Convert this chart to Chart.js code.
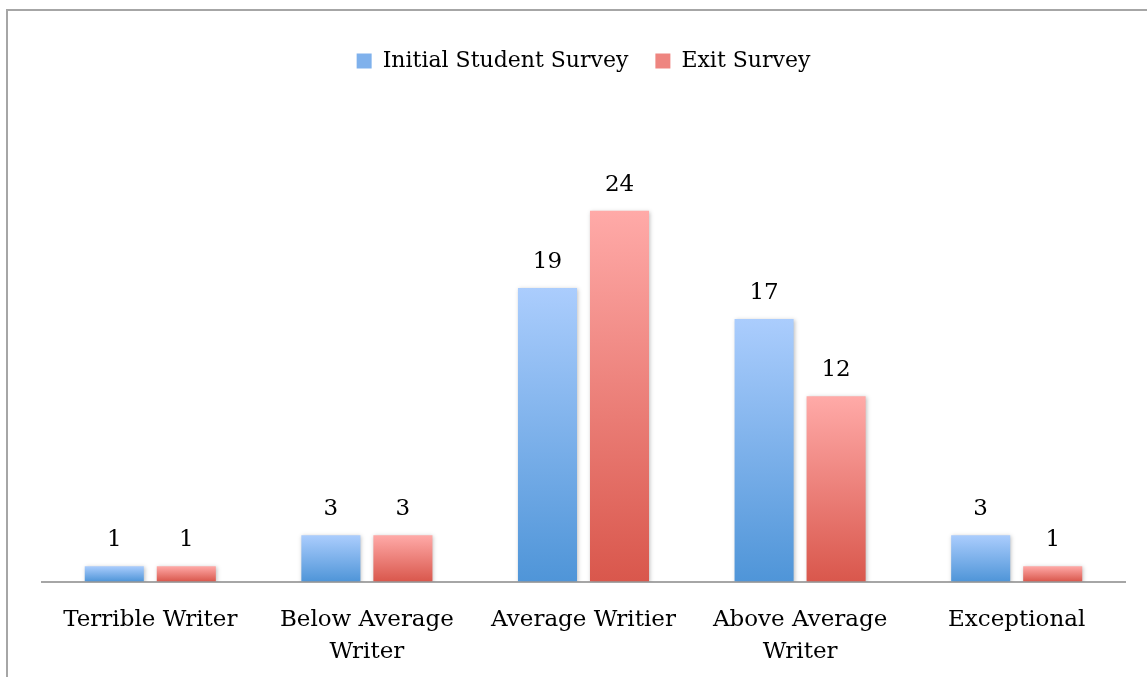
<!DOCTYPE html>
<html>
<head>
<meta charset="utf-8">
<script src="https://cdn.jsdelivr.net/npm/chart.js@4.4.1/dist/chart.umd.min.js"></script>
<style>
  body { margin: 0; background: #fff; overflow: hidden; }
  #frame { position: absolute; left: 6px; top: 9px; width: 1160px; height: 700px; border: 2px solid #a6a6a6; box-sizing: border-box; }
  #wrap { position: absolute; left: 0; top: 0; width: 1147px; height: 677px; }
</style>
</head>
<body>
<div id="frame"></div>
<div id="wrap"><canvas id="surveyChart"></canvas></div>
<script>
// Survey categories and counts
const categories = ['Terrible Writer', ['Below Average', 'Writer'], 'Average Writier', ['Above Average', 'Writer'], 'Exceptional'];
const initialSurvey = [1, 3, 19, 17, 3];
const exitSurvey = [1, 3, 24, 12, 1];
const seriesNames = ['Initial Student Survey', 'Exit Survey'];

const FONT = "'DejaVu Serif', serif";

// Vertical gradient from bar top down to the baseline
const barGradient = (top, bottom) => (ctx) => {
    const chart = ctx.chart;
    const y = chart.scales.y;
    if (!y || ctx.parsed === undefined || !chart.chartArea) return bottom;
    const yTop = y.getPixelForValue(ctx.parsed.y);
    const yBase = y.getPixelForValue(0);
    const g = chart.ctx.createLinearGradient(0, yTop, 0, yBase);
    g.addColorStop(0, top);
    g.addColorStop(1, bottom);
    return g;
};

// Draw value labels above each bar (no datalabels plugin available)
const valueLabels = {
    id: 'valueLabels',
    afterDatasetsDraw(chart) {
        const ctx = chart.ctx;
        ctx.save();
        ctx.font = '23px ' + FONT;
        ctx.fillStyle = '#000';
        ctx.textAlign = 'center';
        ctx.textBaseline = 'middle';
        chart.data.datasets.forEach((ds, i) => {
            chart.getDatasetMeta(i).data.forEach((bar, j) => {
                ctx.fillText(ds.data[j], bar.x, bar.y - 26);
            });
        });
        ctx.restore();
    }
};

// Soft shadow behind bars
const barShadow = {
    id: 'barShadow',
    beforeDatasetsDraw(chart) {
        const ctx = chart.ctx;
        ctx.save();
        ctx.shadowColor = 'rgba(0,0,0,0.25)';
        ctx.shadowBlur = 4;
        ctx.shadowOffsetX = 1;
        ctx.shadowOffsetY = 1;
    },
    afterDatasetsDraw(chart) {
        chart.ctx.restore();
    }
};

// Extra space under the legend
const legendGap = {
    id: 'legendGap',
    beforeInit(chart) {
        const fit = chart.legend.fit;
        chart.legend.fit = function () {
            fit.bind(chart.legend)();
            this.height += 36;
        };
    }
};

new Chart(document.getElementById('surveyChart'), {
    type: 'bar',
    data: {
        labels: categories,
        datasets: [{
            label: seriesNames[0],
            data: initialSurvey,
            backgroundColor: barGradient('#abcdfd', '#4f95d8'),
            categoryPercentage: 0.665,
            barPercentage: 0.82
        }, {
            label: seriesNames[1],
            data: exitSurvey,
            backgroundColor: barGradient('#ffaaa8', '#d9574c'),
            categoryPercentage: 0.665,
            barPercentage: 0.82
        }]
    },
    options: {
        responsive: true,
        maintainAspectRatio: false,
        animation: false,
        layout: { padding: { left: 42, right: 22, top: 23, bottom: -13 } },
        plugins: {
            legend: {
                position: 'top',
                labels: {
                    color: '#000',
                    font: { family: FONT, size: 22 },
                    boxWidth: 15,
                    boxHeight: 15,
                    padding: 27,
                    generateLabels: (chart) => [
                        { text: seriesNames[0], fillStyle: '#7fb1ec', strokeStyle: '#7fb1ec', lineWidth: 0, datasetIndex: 0 },
                        { text: seriesNames[1], fillStyle: '#ee8580', strokeStyle: '#ee8580', lineWidth: 0, datasetIndex: 1 }
                    ]
                }
            },
            tooltip: { enabled: false }
        },
        scales: {
            x: {
                grid: { display: false, drawTicks: false },
                border: { display: true, color: '#a6a6a6', width: 2 },
                ticks: {
                    color: '#000',
                    padding: 22,
                    maxRotation: 0,
                    autoSkip: false,
                    font: { family: FONT, size: 23, lineHeight: 1.4 }
                }
            },
            y: {
                display: false,
                min: 0,
                max: 30
            }
        }
    },
    plugins: [legendGap, barShadow, valueLabels]
});
</script>
</body>
</html>
